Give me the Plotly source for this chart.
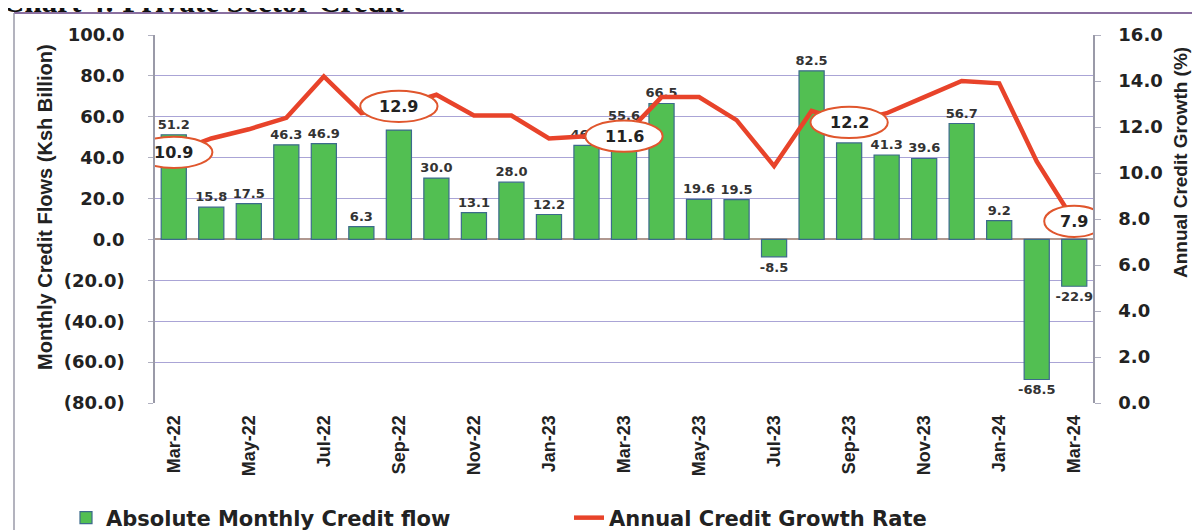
import plotly.graph_objects as go

# ---------------- data ----------------
months = ["Mar-22", "Apr-22", "May-22", "Jun-22", "Jul-22", "Aug-22", "Sep-22", "Oct-22",
          "Nov-22", "Dec-22", "Jan-23", "Feb-23", "Mar-23", "Apr-23", "May-23", "Jun-23",
          "Jul-23", "Aug-23", "Sep-23", "Oct-23", "Nov-23", "Dec-23", "Jan-24", "Feb-24", "Mar-24"]

credit_flow = [51.2, 15.8, 17.5, 46.3, 46.9, 6.3, 53.5, 30.0, 13.1, 28.0, 12.2, 46.0, 55.6,
               66.5, 19.6, 19.5, -8.5, 82.5, 47.2, 41.3, 39.6, 56.7, 9.2, -68.5, -22.9]

growth_rate = [10.9, 11.5, 11.9, 12.4, 14.2, 12.6, 12.9, 13.4, 12.5, 12.5, 11.5, 11.6, 11.6,
               13.3, 13.3, 12.3, 10.3, 12.7, 12.2, 12.6, 13.3, 14.0, 13.9, 10.5, 7.9]

highlight_months = ["Mar-22", "Sep-22", "Mar-23", "Sep-23", "Mar-24"]
# bar value labels hidden behind the highlight ellipses in the reference
hidden_bar_labels = ["Sep-22", "Sep-23"]

x_tick_labels = months[::2]
left_tick_vals = [100, 80, 60, 40, 20, 0, -20, -40, -60, -80]
left_tick_labels = ["100.0", "80.0", "60.0", "40.0", "20.0", "0.0",
                    "(20.0)", "(40.0)", "(60.0)", "(80.0)"]

title_text = "Chart 4: Private Sector Credit"
bar_name = "Absolute Monthly Credit flow"
line_name = "Annual Credit Growth Rate"
left_title = "Monthly Credit Flows (Ksh Billion)"
right_title = "Annual Credit Growth (%)"

# ---------------- layout constants ----------------
OFF = 8
W, H = 1200 - OFF, 530 - OFF
ML, MR, MT, MB = 155 - OFF, 107, 35 - OFF, 127
PW, PH = W - ML - MR, H - MT - MB


def px2x(px):
    return (px - OFF - ML) / PW


def px2y(py):
    return (OFF + H - MB - py) / PH


BOLD_SANS = "DejaVu Sans"
ARIAL = "Liberation Sans"

bar_text = ["" if m in hidden_bar_labels else f"{v:.1f}" for m, v in zip(months, credit_flow)]

fig = go.Figure()

fig.add_trace(go.Bar(
    x=months, y=credit_flow, name=bar_name,
    marker=dict(color="#52bf52", line=dict(color="#3c6a8c", width=1.2)),
    text=bar_text, textposition="outside", cliponaxis=False,
    constraintext="none",
    textfont=dict(family=BOLD_SANS, size=13, color="#333333", weight="bold"),
    yaxis="y",
))

fig.add_trace(go.Scatter(
    x=months, y=growth_rate, name=line_name, mode="lines",
    line=dict(color="#e8432a", width=4.5),
    yaxis="y2",
))

shapes = []
annotations = []

# highlighted growth values in ellipses
for m in highlight_months:
    i = months.index(m)
    v = growth_rate[i]
    hw = 0.8 if i == len(months) - 1 else 1.03
    shapes.append(dict(type="circle", xref="x", yref="y2",
                       x0=i - hw, x1=i + hw, y0=v - 0.68, y1=v + 0.68,
                       fillcolor="white", line=dict(color="#e0562d", width=2),
                       layer="above"))
    annotations.append(dict(x=i, y=v, xref="x", yref="y2", text=f"{v:.1f}",
                            showarrow=False,
                            font=dict(family=BOLD_SANS, size=16, color="#222222",
                                      weight="bold")))

# title (cut at top like the reference)
annotations.append(dict(x=px2x(0), y=px2y(21), xref="paper", yref="paper",
                        xanchor="left", yanchor="bottom", text=title_text,
                        showarrow=False,
                        font=dict(family="Liberation Serif", size=31, color="#111111",
                                  weight="bold")))

# axis titles
annotations.append(dict(x=px2x(45), y=px2y(207), xref="paper", yref="paper",
                        xanchor="center", yanchor="middle", textangle=-90,
                        text=left_title, showarrow=False,
                        font=dict(family=ARIAL, size=20, color="#222222", weight="bold")))
annotations.append(dict(x=px2x(1180), y=px2y(163), xref="paper", yref="paper",
                        xanchor="center", yanchor="middle", textangle=-90,
                        text=right_title, showarrow=False,
                        font=dict(family=ARIAL, size=19, color="#222222", weight="bold")))

# frame decorations
shapes += [
    dict(type="line", xref="paper", yref="paper", x0=px2x(14), x1=px2x(1200),
         y0=px2y(13), y1=px2y(13), line=dict(color="#8a6fa0", width=2), layer="below"),
    dict(type="line", xref="paper", yref="paper", x0=px2x(14), x1=px2x(14),
         y0=px2y(13), y1=px2y(530), line=dict(color="#9a9aa8", width=1.5), layer="below"),
]

fig.update_layout(
    width=W, height=H,
    margin=dict(l=ML, r=MR, t=MT, b=MB, autoexpand=False),
    plot_bgcolor="white", paper_bgcolor="white",
    bargap=0.33,
    shapes=shapes, annotations=annotations,
    showlegend=True,
    legend=dict(orientation="h", x=px2x(66), y=px2y(518), xanchor="left",
                yanchor="middle", entrywidth=458, entrywidthmode="pixels",
                font=dict(family=BOLD_SANS, size=21, color="#222222", weight="bold"),
                bgcolor="rgba(0,0,0,0)", itemwidth=30, tracegroupgap=0),
    xaxis=dict(
        type="category", tickmode="array", tickvals=x_tick_labels, ticktext=x_tick_labels,
        tickangle=-90, showgrid=False, showline=False, ticks="outside", ticklen=4,
        tickcolor="rgba(0,0,0,0)",
        tickfont=dict(family=ARIAL, size=18, color="#222222", weight="bold"),
        range=[-0.5, len(months) - 0.5],
    ),
    yaxis=dict(
        range=[-80, 100], tickmode="array", tickvals=left_tick_vals, ticktext=left_tick_labels,
        showgrid=True, gridcolor="#aaa4d6", gridwidth=1,
        zeroline=True, zerolinecolor="#b09890", zerolinewidth=1.5,
        showline=True, linecolor="#9a9aa8", linewidth=1.5,
        ticks="outside", ticklen=5, tickcolor="#b0b0c0", ticklabelstandoff=20,
        tickfont=dict(family=BOLD_SANS, size=18, color="#222222", weight="bold"),
    ),
    yaxis2=dict(
        range=[0, 16], dtick=2, tickformat=".1f", overlaying="y", side="right",
        showgrid=False, zeroline=False,
        showline=True, linecolor="#9a9aa8", linewidth=1.5,
        ticks="outside", ticklen=6, tickcolor="#b0b0c0", ticklabelstandoff=14,
        tickfont=dict(family=BOLD_SANS, size=18, color="#222222", weight="bold"),
    ),
)

fig.write_html("out.html")
